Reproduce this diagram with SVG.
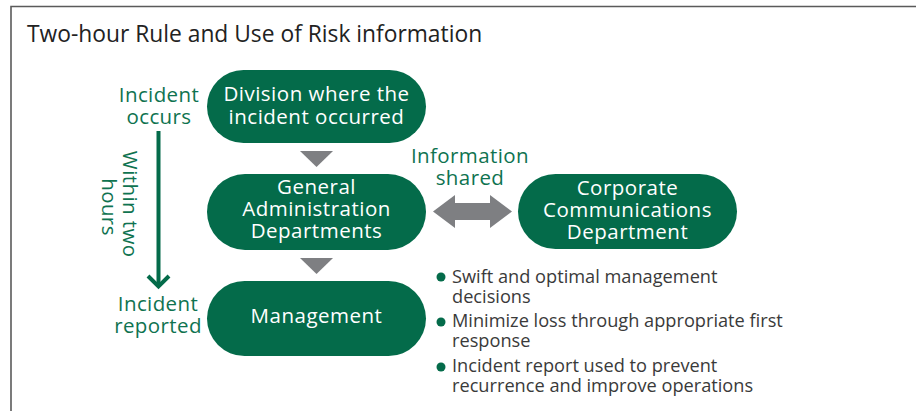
<svg xmlns="http://www.w3.org/2000/svg" width="916" height="411" viewBox="0 0 916 411">
  <style>
    .pill { fill: #046b4a; }
    .ntext { fill: #ffffff; font-family: "Open Sans", "Noto Sans", sans-serif; font-size: 20.5px; letter-spacing: 0.5px; text-anchor: middle; }
    .gtext { fill: #0f7350; font-family: "Open Sans", "Noto Sans", sans-serif; font-size: 20.5px; letter-spacing: 0.4px; text-anchor: middle; }
    .btext { fill: #3a3a3a; font-family: "Open Sans", "Noto Sans", sans-serif; font-size: 18.2px; }
    .title { fill: #222222; font-family: "Open Sans", "Noto Sans", sans-serif; font-size: 22.8px; }
    .bullet { fill: #046b4a; }
    .flow { fill: #7e7f82; }
  </style>

  <!-- frame -->
  <rect width="916" height="411" fill="#ffffff"/>
  <path d="M11 411 V6.5 H916" fill="none" stroke="#5a5a5a" stroke-width="1.6"/>

  <text class="title" x="27" y="42">Two-hour Rule and Use of Risk information</text>

  <!-- connectors -->
  <g id="connectors">
    <!-- two-hour timeline -->
    <line x1="158.5" y1="131" x2="158.5" y2="285" stroke="#046b4a" stroke-width="4"/>
    <polyline points="148,276 158.5,286.5 169,276" fill="none" stroke="#046b4a" stroke-width="4"/>
    <!-- downward flow -->
    <polygon class="flow" points="300,151 333,151 316.5,167"/>
    <polygon class="flow" points="300,258 333,258 316.5,274"/>
    <!-- information sharing -->
    <polygon class="flow" points="433,211.5 455,195 455,203 490,203 490,195 512,211.5 490,228 490,220 455,220 455,228"/>
  </g>

  <g id="label-incident-occurs">
    <text class="gtext" x="159" y="102">Incident</text>
    <text class="gtext" x="159" y="124">occurs</text>
  </g>
  <g id="label-within-two-hours">
    <text class="gtext" transform="translate(123,207) rotate(90)">
      <tspan x="0" y="0">Within two</tspan>
      <tspan x="0" y="21">hours</tspan>
    </text>
  </g>
  <g id="label-incident-reported">
    <text class="gtext" x="158" y="311">Incident</text>
    <text class="gtext" x="158" y="333">reported</text>
  </g>
  <g id="label-information-shared">
    <text class="gtext" x="470" y="163">Information</text>
    <text class="gtext" x="470" y="185">shared</text>
  </g>

  <g id="node-division">
    <rect class="pill" x="207" y="70" width="219" height="73" rx="36.5"/>
    <text class="ntext" x="316.5" y="101">Division where the</text>
    <text class="ntext" x="316.5" y="124">incident occurred</text>
  </g>

  <g id="node-general-admin">
    <rect class="pill" x="207" y="174" width="219" height="76" rx="38"/>
    <text class="ntext" x="316.5" y="194">General</text>
    <text class="ntext" x="316.5" y="216">Administration</text>
    <text class="ntext" x="316.5" y="238">Departments</text>
  </g>

  <g id="node-management">
    <rect class="pill" x="207" y="281" width="219" height="75" rx="37.5"/>
    <text class="ntext" x="316.5" y="323">Management</text>
  </g>

  <g id="node-corporate-communications">
    <rect class="pill" x="518" y="174" width="219" height="75" rx="37.5"/>
    <text class="ntext" x="627.5" y="195">Corporate</text>
    <text class="ntext" x="627.5" y="217">Communications</text>
    <text class="ntext" x="627.5" y="239">Department</text>
  </g>

  <g id="benefits">
    <circle class="bullet" cx="441" cy="277" r="4.5"/>
    <text class="btext" x="452" y="283">Swift and optimal management</text>
    <text class="btext" x="452" y="303">decisions</text>
    <circle class="bullet" cx="441" cy="322" r="4.5"/>
    <text class="btext" x="452" y="327">Minimize loss through appropriate first</text>
    <text class="btext" x="452" y="347">response</text>
    <circle class="bullet" cx="441" cy="367" r="4.5"/>
    <text class="btext" x="452" y="372">Incident report used to prevent</text>
    <text class="btext" x="452" y="392">recurrence and improve operations</text>
  </g>
</svg>
